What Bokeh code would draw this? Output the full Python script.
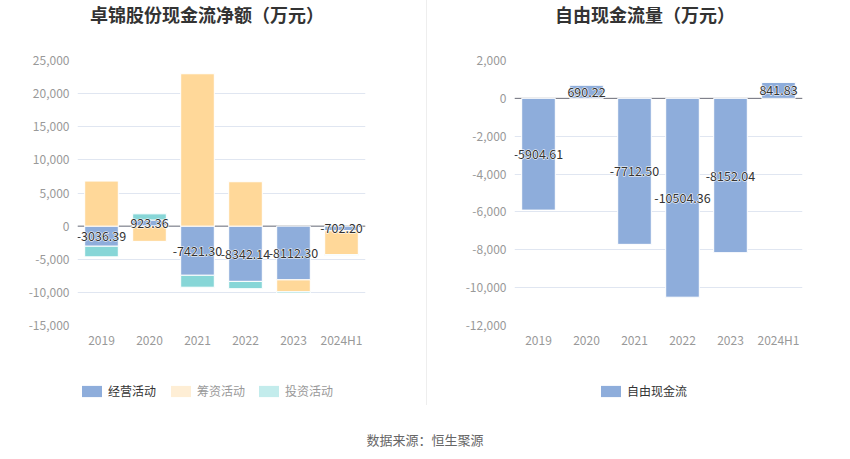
import numpy as np
from bokeh.plotting import figure
from bokeh.models import (ColumnDataSource, FixedTicker, NumeralTickFormatter, Span,
                          Legend, LegendItem, Div, Range1d, FactorRange)
from bokeh.layouts import row, column
from bokeh.embed import file_html
from bokeh.resources import INLINE
from bokeh.core.properties import value

# ---------------- data ----------------
years = ["2019", "2020", "2021", "2022", "2023", "2024H1"]
operating = [-3036.39, 923.36, -7421.30, -8342.14, -8112.30, -702.20]
financing = [6800, -2300, 23000, 6700, -1800, -3600]
investing = [-1600, 930, -1800, -1100, -200, -150]
free_cf = [-5904.61, 690.22, -7712.50, -10504.36, -8152.04, 841.83]
left_ticks = [-15000, -10000, -5000, 0, 5000, 10000, 15000, 20000, 25000]
right_ticks = [-12000, -10000, -8000, -6000, -4000, -2000, 0, 2000]
series_names = ["经营活动", "筹资活动", "投资活动"]
left_title = "卓锦股份现金流净额（万元）"
right_title = "自由现金流量（万元）"
source_text = "数据来源：恒生聚源"

FONT = "Noto Sans CJK SC"
C_OP, C_FIN, C_INV = "#8eaddb", "#ffd899", "#87d6d7"
C_FIN_L, C_INV_L = "#feeed5", "#c3ecec"


def title_div(text, width, left, border):
    style = ("font-family:'Noto Sans CJK SC';font-size:18px;font-weight:bold;"
             "color:#333333;line-height:22px;padding-top:3px;padding-left:%dpx;"
             "white-space:nowrap" % left)
    d = Div(text='<div style="%s">%s</div>' % (style, text), width=width, height=30,
            margin=0)
    if border:
        d.styles = {"border-right": "1px solid #eeeeee"}
    return d


def base_fig(width, bl, br, y0, y1, ticks):
    p = figure(x_range=FactorRange(factors=years, range_padding=0),
               y_range=Range1d(y0, y1), width=width, height=320,
               min_border_left=bl, min_border_right=br, min_border_top=30,
               min_border_bottom=23, output_backend="svg", toolbar_location=None)
    p.outline_line_color = None
    p.background_fill_color = "white"
    p.border_fill_color = "white"
    p.xgrid.visible = False
    p.ygrid.grid_line_color = "#e0e6f1"
    p.yaxis.ticker = FixedTicker(ticks=ticks)
    p.yaxis.formatter = NumeralTickFormatter(format="0,0")
    for ax in (p.xaxis, p.yaxis):
        ax.axis_line_color = None
        ax.major_tick_line_color = None
        ax.minor_tick_line_color = None
        ax.major_tick_out = 0
        ax.major_tick_in = 0
        ax.minor_tick_out = 0
        ax.major_label_text_color = "#999999"
        ax.major_label_text_font = FONT
        ax.major_label_text_font_size = "12px"
    p.yaxis.major_label_standoff = 8
    p.xaxis.major_label_standoff = 5
    p.add_layout(Span(location=0, dimension="width", line_color="#6e7079",
                      line_width=1, level="underlay"))
    return p


def legend_fig(width):
    q = figure(width=width, height=55, x_range=Range1d(0, 1), y_range=Range1d(0, 1),
               min_border=0, output_backend="svg", toolbar_location=None)
    q.axis.visible = False
    q.grid.visible = False
    q.outline_line_color = None
    q.border_fill_color = "white"
    return q


def make_legend(items, x, color):
    return Legend(items=items, location=(x, 6), orientation="horizontal",
                  glyph_width=25, glyph_height=14, label_height=14,
                  label_standoff=4, spacing=11, padding=0, margin=0,
                  border_line_color=None, background_fill_alpha=0,
                  label_text_font=FONT, label_text_font_size="12px",
                  label_text_color=color)


def add_labels(p, src):
    common = dict(x="x", y="y", text="t", source=src, text_align="center",
                  text_baseline="middle", text_font=value(FONT),
                  text_font_size="12.5px")
    p.text(text_color="white", text_outline_color="white", **common)
    p.text(text_color="#333333", **common)


# ---------------- left chart ----------------
p1 = base_fig(427, 77, 62, -15000, 25000, left_ticks)

pos = np.zeros(len(years))
neg = np.zeros(len(years))
colors = [C_OP, C_FIN, C_INV]
for vals, col in zip([operating, financing, investing], colors):
    v = np.array(vals, dtype=float)
    bottom = np.where(v >= 0, pos, neg)
    top = bottom + v
    pos = np.where(v >= 0, top, pos)
    neg = np.where(v < 0, top, neg)
    src = ColumnDataSource(dict(x=years, bottom=bottom, top=top))
    p1.vbar(x="x", bottom="bottom", top="top", width=0.7, source=src,
            fill_color=col, line_color="white", line_width=1)

lab1 = ColumnDataSource(dict(x=years, y=np.array(operating) / 2.0,
                             t=["%.2f" % v for v in operating]))
add_labels(p1, lab1)
p1.styles = {"border-right": "1px solid #eeeeee"}

# ---------------- right chart ----------------
p2 = base_fig(423, 87, 48, -12000, 2000, right_ticks)
src2 = ColumnDataSource(dict(x=years, top=free_cf,
                             y=np.array(free_cf) / 2.0,
                             t=["%.2f" % v for v in free_cf]))
p2.vbar(x="x", top="top", bottom=0, width=0.7, source=src2,
        fill_color=C_OP, line_color="white", line_width=1)
add_labels(p2, src2)

# ---------------- legends (zero-size swatch renderers) ----------------
def swatch(q, color):
    s = ColumnDataSource(dict(left=[0], right=[0], top=[0], bottom=[0]))
    return q.quad(left="left", right="right", top="top", bottom="bottom", source=s,
                  fill_color=color, line_color=None)


q1 = legend_fig(427)
q1.styles = {"border-right": "1px solid #eeeeee"}
g_op = swatch(q1, C_OP)
g_fin = swatch(q1, C_FIN_L)
g_inv = swatch(q1, C_INV_L)
q1.add_layout(make_legend([LegendItem(label=series_names[0], renderers=[g_op])],
                          79, "#333333"))
q1.add_layout(make_legend([LegendItem(label=series_names[1], renderers=[g_fin]),
                           LegendItem(label=series_names[2], renderers=[g_inv])],
                          168, "#999999"))

q2 = legend_fig(423)
g_fcf = swatch(q2, C_OP)
q2.add_layout(make_legend([LegendItem(label="自由现金流", renderers=[g_fcf])],
                          171, "#333333"))

source_div = Div(text='<div style="text-align:center;font-size:13px;color:#666666;'
                      'font-family:\'Noto Sans CJK SC\';padding-top:26px;width:850px">'
                      '%s</div>' % source_text, width=850, height=50, margin=0)

layout = column(row(title_div(left_title, 427, 90, True),
                    title_div(right_title, 423, 128, False)),
                row(p1, p2), row(q1, q2), source_div)
open("out.html", "w").write(file_html(layout, INLINE))
